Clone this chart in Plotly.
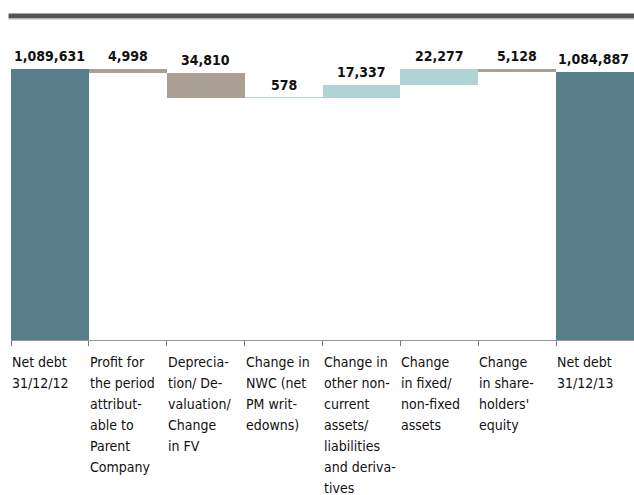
import plotly.graph_objects as go

categories = ["Net debt 31/12/12", "Profit for the period attributable to Parent Company",
              "Depreciation/ Devaluation/ Change in FV", "Change in NWC (net PM writedowns)",
              "Change in other non-current assets/ liabilities and derivatives",
              "Change in fixed/ non-fixed assets", "Change in shareholders' equity",
              "Net debt 31/12/13"]
tick_labels = [["Net debt", "31/12/12"],
               ["Profit for", "the period", "attribut-", "able to", "Parent", "Company"],
               ["Deprecia-", "tion/ De-", "valuation/", "Change", "in FV"],
               ["Change in", "NWC (net", "PM writ-", "edowns)"],
               ["Change in", "other non-", "current", "assets/", "liabilities", "and deriva-", "tives"],
               ["Change", "in fixed/", "non-fixed", "assets"],
               ["Change", "in share-", "holders'", "equity"],
               ["Net debt", "31/12/13"]]
measures = ["absolute", "relative", "relative", "relative", "relative", "relative", "relative", "total"]
values = [1089631, -4998, -34810, 578, 17337, 22277, -5128, 1084887]
value_labels = ["1,089,631", "4,998", "34,810", "578", "17,337", "22,277", "5,128", "1,084,887"]

C_TOTAL = "#577e89"
C_DEC = "#aa9f94"
C_INC = "#b0d3d5"

fig = go.Figure(go.Waterfall(
    x=categories, y=values, measure=measures,
    totals=dict(marker=dict(color=C_TOTAL)),
    decreasing=dict(marker=dict(color=C_DEC)),
    increasing=dict(marker=dict(color=C_INC)),
    connector=dict(visible=False),
    textposition="none", hoverinfo="skip",
))

# compute bar tops for labels
running = 0
tops = []
for m, v in zip(measures, values):
    if m == "absolute":
        running = v
        tops.append(v)
    elif m == "total":
        tops.append(running)
    else:
        before = running
        running += v
        tops.append(max(before, running))

FONT = "DejaVu Sans Condensed, sans-serif"
PLOT_H = 310
ann = []
n = len(values)
for i, (t, lab) in enumerate(zip(tops, value_labels)):
    ann.append(dict(x=i, y=t, xref="x", yref="y", text="<b>%s</b>" % lab, showarrow=False,
                    yanchor="bottom", xanchor="center", yshift=3,
                    xshift=-2 if i == n - 1 else 0,
                    font=dict(family=FONT, size=14, color="#111")))
for i, lines in enumerate(tick_labels):
    for k, line in enumerate(lines):
        ann.append(dict(x=i - 0.5, y=0, xref="x", yref="paper", text=line, showarrow=False,
                        xanchor="left", yanchor="top", yshift=-12 - 21 * k, xshift=-1, align="left",
                        font=dict(family=FONT, size=14, color="#111")))

fig.update_layout(
    width=634, height=495,
    margin=dict(l=11, r=0, t=30, b=155),
    paper_bgcolor="white", plot_bgcolor="white",
    waterfallgap=0,
    showlegend=False,
    annotations=ann,
    xaxis=dict(range=[-0.5, 7.5], autorange=False, showticklabels=False, ticks="outside",
               tickson="boundaries", ticklen=5,
               tickcolor="#777", showline=True, linecolor="#999", linewidth=1,
               showgrid=False, zeroline=False),
    yaxis=dict(range=[718000, 1143000], autorange=False, visible=False, showgrid=False,
               zeroline=False),
    shapes=[dict(type="line", xref="paper", yref="paper", x0=-0.004, x1=1.02,
                 y0=1.0 + 14 / PLOT_H, y1=1.0 + 14 / PLOT_H,
                 line=dict(color="#555555", width=5)),
            dict(type="line", xref="paper", yref="paper", x0=-0.004, x1=1.02,
                 y0=1.0 + 11 / PLOT_H, y1=1.0 + 11 / PLOT_H,
                 line=dict(color="#bbbbbb", width=1))],
)

fig.write_html("out.html",
               config={"displayModeBar": False},
               post_script="document.body.style.margin='0';"
                           "document.documentElement.style.overflow='hidden';")
